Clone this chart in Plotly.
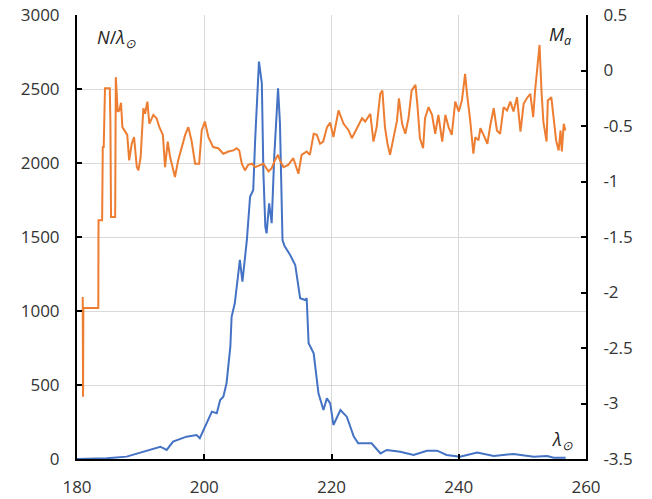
import plotly.graph_objects as go

# Solar longitude (deg) and activity profile N/lambda (left axis)
lam_n = [180.0, 184.7, 187.8, 190.4, 193.1, 194.1, 195.1, 197.2, 198.8, 199.3,
         199.9, 200.6, 201.2, 201.97, 202.5, 203.0, 203.5, 204.1, 204.3, 204.8,
         205.4, 205.6, 206.0, 206.4, 206.7, 207.2, 207.7, 208.0, 208.6, 209.05,
         209.3, 209.6, 209.8, 210.2, 210.6, 211.0, 211.6, 211.9, 212.3, 212.6,
         213.5, 214.3, 215.07, 215.86, 216.1, 216.4, 217.2, 217.95, 218.74, 219.27,
         219.8, 220.3, 221.4, 222.4, 223.5, 224.2, 226.3, 227.7, 228.7, 230.8,
         232.9, 235.0, 236.6, 238.1, 240.2, 242.9, 245.5, 248.6, 251.8, 253.9,
         254.9, 256.8]
n_per_lam = [0, 5, 16, 50, 83, 61, 117, 151, 162, 140,
             196, 264, 320, 309, 399, 421, 511, 759, 961, 1052,
             1255, 1345, 1198, 1367, 1480, 1772, 1818, 2155, 2685, 2539,
             1930, 1570, 1525, 1728, 1593, 2043, 2505, 2268, 1480, 1440,
             1378, 1311, 1086, 1074, 1086, 782, 714, 444, 331, 410,
             376, 230, 331, 286, 151, 106, 106, 38, 61, 49,
             27, 56, 56, 27, 16, 43, 20, 34, 16, 20,
             9, 9]

# Solar longitude (deg) and mean magnitude M_a (right axis)
lam_m = [180.9, 180.95, 181.0, 183.35, 183.38, 183.95, 184.05, 184.2, 184.4, 185.15,
         185.25, 185.35, 186.0, 186.1, 186.4, 186.66, 186.92, 187.13, 187.55, 187.9,
         188.2, 188.6, 188.97, 189.4, 189.65, 190.0, 190.43, 190.7, 191.06, 191.37,
         192.0, 192.5, 192.95, 193.5, 193.84, 194.26, 194.63, 195.4, 195.9, 196.47,
         197.0, 197.5, 198.0, 198.56, 199.2, 199.6, 200.1, 200.65, 201.4, 202.2,
         203.0, 203.8, 204.6, 205.1, 205.5, 205.9, 206.4, 206.9, 207.5, 208.0,
         208.8, 209.3, 210.1, 210.6, 211.1, 211.6, 211.9, 212.45, 213.2, 214.0,
         214.8, 215.3, 216.1, 216.6, 217.2, 217.7, 218.2, 218.7, 219.3, 219.8,
         220.3, 221.1, 221.9, 222.7, 223.2, 224.0, 224.8, 225.3, 226.1, 226.6,
         227.1, 227.66, 228.0, 228.4, 228.8, 229.2, 229.75, 230.3, 230.6, 231.1,
         231.6, 232.1, 232.6, 233.2, 233.5, 233.9, 234.4, 234.7, 235.25, 235.8,
         236.3, 236.8, 237.4, 237.9, 238.4, 238.9, 239.45, 240.0, 240.5, 241.0,
         241.3, 241.8, 242.3, 242.6, 243.1, 243.4, 243.9, 244.5, 245.0, 245.5,
         246.0, 246.5, 247.05, 247.6, 248.1, 248.6, 249.15, 249.7, 250.2, 250.7,
         251.25, 251.7, 252.0, 252.3, 252.7, 253.0, 253.3, 253.8, 254.0, 254.55,
         254.9, 255.3, 255.7, 256.0, 256.2, 256.5, 256.75]
mag_a = [-2.04, -2.94, -2.14, -2.14, -1.35, -1.35, -0.69, -0.69, -0.16, -0.16,
         -0.46, -1.32, -1.32, -0.06, -0.37, -0.36, -0.29, -0.51, -0.55, -0.58,
         -0.81, -0.66, -0.60, -0.87, -0.90, -0.78, -0.34, -0.39, -0.28, -0.48,
         -0.40, -0.43, -0.51, -0.58, -0.87, -0.64, -0.78, -0.96, -0.81, -0.70,
         -0.58, -0.51, -0.63, -0.84, -0.84, -0.54, -0.46, -0.60, -0.69, -0.70,
         -0.75, -0.73, -0.72, -0.70, -0.72, -0.84, -0.90, -0.85, -0.84, -0.87,
         -0.85, -0.84, -0.91, -0.88, -0.81, -0.76, -0.81, -0.87, -0.85, -0.79,
         -0.93, -0.76, -0.73, -0.76, -0.57, -0.58, -0.66, -0.64, -0.51, -0.47,
         -0.60, -0.36, -0.48, -0.54, -0.61, -0.52, -0.43, -0.46, -0.39, -0.64,
         -0.51, -0.21, -0.18, -0.51, -0.66, -0.76, -0.60, -0.45, -0.25, -0.48,
         -0.57, -0.43, -0.18, -0.13, -0.31, -0.61, -0.70, -0.43, -0.33, -0.40,
         -0.57, -0.40, -0.64, -0.40, -0.51, -0.58, -0.28, -0.37, -0.27, -0.03,
         -0.21, -0.45, -0.75, -0.60, -0.63, -0.52, -0.58, -0.66, -0.48, -0.34,
         -0.54, -0.57, -0.33, -0.36, -0.28, -0.37, -0.24, -0.55, -0.30, -0.25,
         -0.21, -0.42, -0.18, 0.0, 0.23, -0.18, -0.46, -0.64, -0.27, -0.24,
         -0.45, -0.63, -0.72, -0.54, -0.73, -0.48, -0.54]

# Axis ticks
x_ticks = [180, 200, 220, 240, 260]
y_ticks = [0, 500, 1000, 1500, 2000, 2500, 3000]
y2_ticks = [-3.5, -3, -2.5, -2, -1.5, -1, -0.5, 0, 0.5]
y2_labels = ["-3.5", "-3", "-2.5", "-2", "-1.5", "-1", "-0.5", "0", "0.5"]

FONT = "Open Sans"
TXT = "#333333"

fig = go.Figure()
fig.add_trace(go.Scatter(x=lam_n, y=n_per_lam, mode="lines",
                         line=dict(color="#4472C4", width=2), yaxis="y"))
fig.add_trace(go.Scatter(x=lam_m, y=mag_a, mode="lines",
                         line=dict(color="#ED7D31", width=2), yaxis="y2"))

axis_common = dict(zeroline=False, showline=True, linecolor="black", linewidth=2,
                   ticks="inside", ticklen=5, tickcolor="black", tickwidth=2,
                   automargin=False,
                   tickfont=dict(family=FONT, size=17, color=TXT))

fig.update_layout(
    width=652, height=499,
    margin=dict(l=77, r=66, t=15, b=40, autoexpand=False),
    paper_bgcolor="white", plot_bgcolor="white",
    showlegend=False,
    font=dict(family=FONT, size=17, color=TXT),
    xaxis=dict(range=[180, 260], tickvals=x_ticks, showgrid=True,
               gridcolor="#D9D9D9", gridwidth=1, ticklabelstandoff=12,
               **axis_common),
    yaxis=dict(range=[0, 3000], tickvals=y_ticks, showgrid=True,
               gridcolor="#D9D9D9", gridwidth=1, ticklabelstandoff=12,
               **axis_common),
    yaxis2=dict(range=[-3.5, 0.5], tickvals=y2_ticks, ticktext=y2_labels,
                overlaying="y", side="right", showgrid=False,
                ticklabelstandoff=12, **axis_common),
    annotations=[
        dict(x=182.8, y=2840, xref="x", yref="y", xanchor="left", yanchor="middle",
             text="<i>N</i>/<i>λ</i><sub><i>⊙</i></sub>", showarrow=False,
             font=dict(family=FONT, size=18, color="#222222")),
        dict(x=258.0, y=2860, xref="x", yref="y", xanchor="right", yanchor="middle",
             text="<i>M</i><sub><i>a</i></sub>", showarrow=False,
             font=dict(family=FONT, size=18, color="#222222")),
        dict(x=258.3, y=125, xref="x", yref="y", xanchor="right", yanchor="middle",
             text="<i>λ</i><sub><i>⊙</i></sub>", showarrow=False,
             font=dict(family=FONT, size=18, color="#222222")),
    ],
)

fig.write_html("out.html")
